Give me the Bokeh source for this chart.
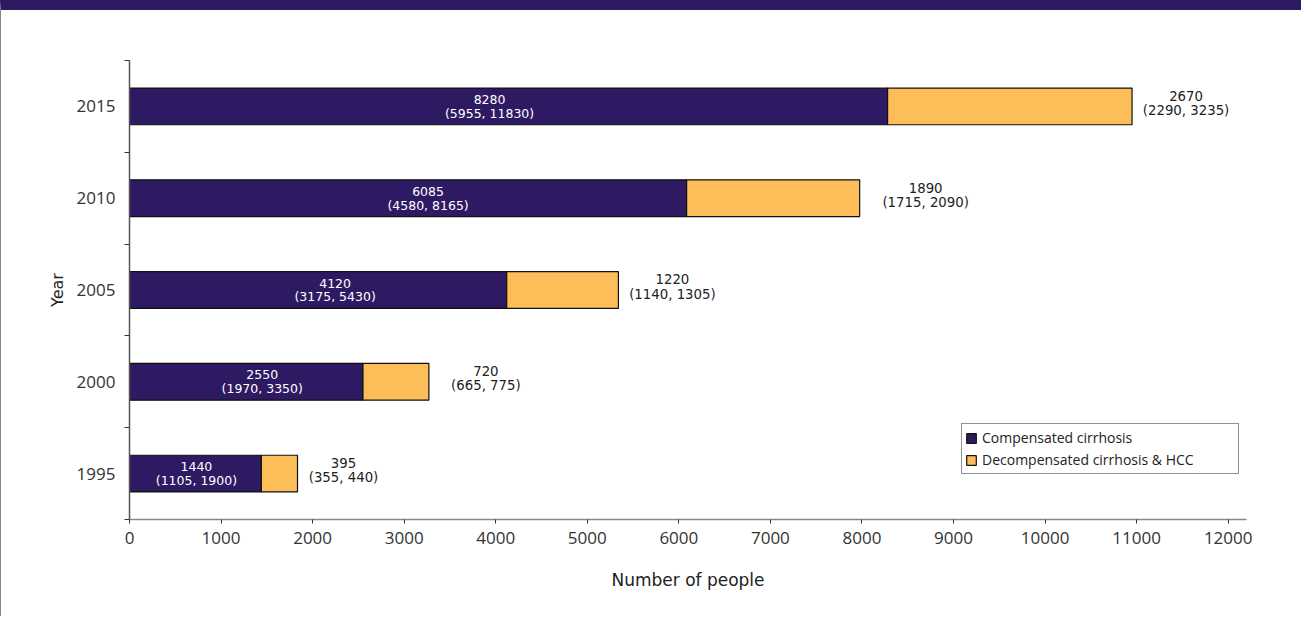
from bokeh.plotting import figure
from bokeh.models import ColumnDataSource, FixedTicker, SingleIntervalTicker, Range1d, Legend, LegendItem
from bokeh.core.properties import value
from bokeh.embed import file_html
from bokeh.resources import INLINE

# ---- data ----
years = ["1995", "2000", "2005", "2010", "2015"]
compensated = [1440, 2550, 4120, 6085, 8280]
comp_low = [1105, 1970, 3175, 4580, 5955]
comp_high = [1900, 3350, 5430, 8165, 11830]
decompensated = [395, 720, 1220, 1890, 2670]
decomp_low = [355, 665, 1140, 1715, 2290]
decomp_high = [440, 775, 1305, 2090, 3235]
series_names = ["Compensated cirrhosis", "Decompensated cirrhosis & HCC"]
x_ticks_step = 1000

# label placement (screen px offsets)
inside_label_dx = [1, 16, 17, 20, -19]
right_label_dx = [46, 57, 54, 66, 54]

PURPLE = "#2e1a63"
ORANGE = "#fdbe5a"

ypos = [i + 0.5 for i in range(len(years))]
totals = [c + d for c, d in zip(compensated, decompensated)]

src = ColumnDataSource(dict(
    y=ypos,
    comp=compensated,
    decomp=decompensated,
    comp_mid=[c / 2 for c in compensated],
    total=totals,
    comp_text=[f"{v}\n({lo}, {hi})" for v, lo, hi in zip(compensated, comp_low, comp_high)],
    decomp_text=[f"{v}\n({lo}, {hi})" for v, lo, hi in zip(decompensated, decomp_low, decomp_high)],
    dx_in=inside_label_dx,
    dx=right_label_dx,
))

W, H = 1301, 616
p = figure(width=W, height=H, output_backend="svg", toolbar_location=None,
           x_range=Range1d(0, 12200), y_range=Range1d(0, len(years)),
           min_border_left=128, min_border_right=56, min_border_top=50, min_border_bottom=H - 509)
p.styles = {"border-top": f"10px solid {PURPLE}", "border-left": "1.5px solid #888888"}

r_comp = p.hbar(y="y", left=0, right="comp", height=0.4, source=src,
                fill_color=PURPLE, line_color="#111111", line_width=1.2)
r_dec = p.hbar(y="y", left="comp", right="total", height=0.4, source=src,
               fill_color=ORANGE, line_color="#111111", line_width=1.2)

p.text(x="comp_mid", y="y", text="comp_text", source=src, x_offset="dx_in",
       text_align="center", text_baseline="middle", text_color="white",
       text_font=value("DejaVu Sans"), text_font_size="12.5px", text_line_height=0.92)
p.text(x="total", y="y", text="decomp_text", source=src, x_offset="dx", y_offset=-3,
       text_align="center", text_baseline="middle", text_color="#222222",
       text_font=value("DejaVu Sans"), text_font_size="13.3px", text_line_height=0.96)

p.xgrid.visible = False
p.ygrid.visible = False
p.outline_line_color = None

# x axis
xa = p.xaxis[0]
xa.ticker = SingleIntervalTicker(interval=x_ticks_step, num_minor_ticks=0)
xa.axis_label = "Number of people"
xa.axis_label_text_font = "DejaVu Sans"
xa.axis_label_text_font_style = "normal"
xa.axis_label_text_font_size = "17px"
xa.axis_label_text_color = "#222222"
xa.axis_label_standoff = 23
xa.major_label_text_font = "Open Sans"
xa.major_label_text_font_size = "17px"
xa.major_label_text_color = "#333333"
xa.major_label_standoff = 8
xa.major_tick_in = 0
xa.major_tick_out = 4
xa.minor_tick_line_color = None
xa.axis_line_color = "#888888"
xa.axis_line_width = 1.5
xa.major_tick_line_color = "#333333"

# y axis
ya = p.yaxis[0]
ya.ticker = FixedTicker(ticks=ypos, minor_ticks=list(range(len(years) + 1)))
ya.major_label_overrides = {y: lab for y, lab in zip(ypos, years)}
ya.axis_label = "Year"
ya.axis_label_text_font = "DejaVu Sans"
ya.axis_label_text_font_style = "normal"
ya.axis_label_text_font_size = "16px"
ya.axis_label_text_color = "#222222"
ya.axis_label_standoff = 7
ya.major_label_text_font = "Open Sans"
ya.major_label_text_font_size = "17px"
ya.major_label_text_color = "#333333"
ya.major_label_standoff = 9
ya.major_tick_out = 0
ya.major_tick_in = 0
ya.major_tick_line_color = None
ya.minor_tick_in = 0
ya.minor_tick_out = 5
ya.minor_tick_line_color = "#333333"
ya.axis_line_color = "#555555"
ya.axis_line_width = 1.5

legend = Legend(items=[LegendItem(label=series_names[0], renderers=[r_comp]),
                       LegendItem(label=series_names[1], renderers=[r_dec])],
                location=(832, 45))
legend.label_text_font = "Open Sans"
legend.label_text_font_size = "14px"
legend.label_text_color = "#222222"
legend.glyph_width = 12
legend.glyph_height = 12
legend.label_standoff = 5
legend.label_height = 21
legend.label_width = 253
legend.padding = 3
legend.spacing = 1
legend.margin = 0
legend.border_line_color = "#222222"
legend.border_line_width = 1
legend.background_fill_color = "white"
p.add_layout(legend, "center")

open("out.html", "w").write(file_html(p, INLINE))
